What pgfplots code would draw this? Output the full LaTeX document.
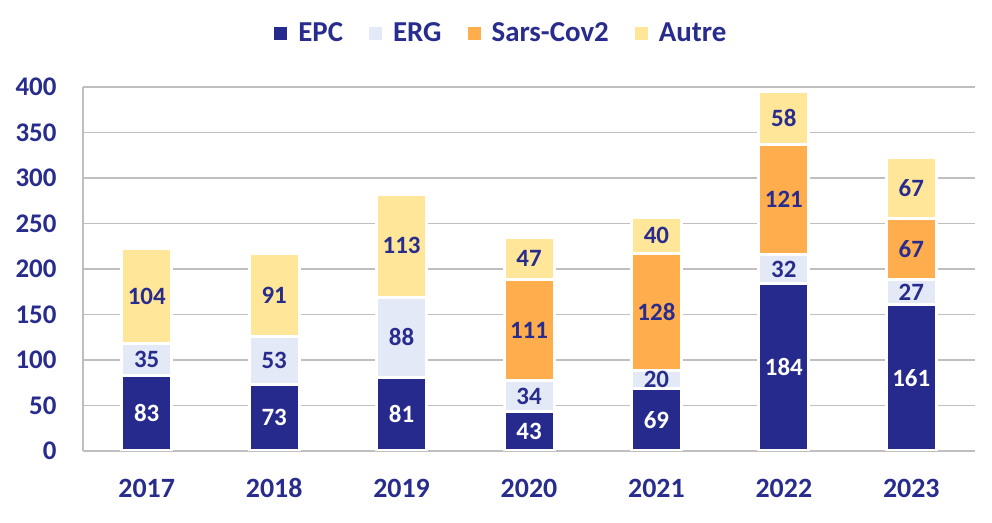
\documentclass[border=0pt]{standalone}
\usepackage{fontspec}
\setmainfont{Carlito}
\usepackage{pgfplots}
\pgfplotsset{compat=1.18}
\definecolor{epc}{RGB}{38,42,140}
\definecolor{erg}{RGB}{227,233,246}
\definecolor{sars}{RGB}{255,173,77}
\definecolor{autre}{RGB}{255,230,153}
\definecolor{txt}{RGB}{40,44,140}
\definecolor{gridc}{RGB}{191,191,191}
\begin{document}
\begin{tikzpicture}
\useasboundingbox (-83bp,-72bp) rectangle (909bp,451bp);
\pgfplotsset{
  common/.style={
    at={(0,0)}, anchor=south west,
    scale only axis, width=892bp, height=364bp,
    xmin=-0.5, xmax=6.5, ymin=0, ymax=400,
  }
}
\begin{axis}[common,
  ybar stacked, bar width=50bp,
  axis x line*=bottom, axis y line*=left,
  axis line style={gridc, line width=1.5bp, -},
  ymajorgrids, grid style={gridc, line width=1.5bp},
  major tick length=0pt,
  ytick={0,50,...,400},
  xtick={0,...,6},
  xticklabels={2017,2018,2019,2020,2021,2022,2023},
  /pgf/number format/assume math mode=true,
  yticklabel style={font=\fontsize{27}{30}\selectfont\bfseries, text=txt, xshift=-23bp},
  xticklabel style={font=\fontsize{28}{30}\selectfont\bfseries, text=txt, anchor=base, yshift=-46bp},
  every axis plot/.append style={draw=white, line width=3bp},
  legend columns=4,
  legend style={draw=none, fill=none, at={(0.469,1.148)}, anchor=center,
    font=\fontsize{29}{32}\selectfont\bfseries, text=txt,
    /tikz/every odd column/.append style={column sep=9bp},
    /tikz/every even column/.append style={column sep=24bp}},
  legend image code/.code={\fill[#1, draw=none] (0bp,-6.5bp) rectangle (13bp,6.5bp);},
]
\addplot[fill=epc] coordinates {(0,83) (1,73) (2,81) (3,43) (4,69) (5,184) (6,161)};
\addplot[fill=erg] coordinates {(0,35) (1,53) (2,88) (3,34) (4,20) (5,32) (6,27)};
\addplot[fill=sars] coordinates {(0,0) (1,0) (2,0) (3,111) (4,128) (5,121) (6,67)};
\addplot[fill=autre] coordinates {(0,104) (1,91) (2,113) (3,47) (4,40) (5,58) (6,67)};
\legend{EPC,ERG,Sars-Cov2,Autre}
\end{axis}
\begin{axis}[common, hide axis,
  nodes near coords, point meta=explicit symbolic,
  every node near coord/.append style={anchor=center, font=\fontsize{25}{28}\selectfont\bfseries},
]
\addplot[only marks, mark=none, nodes near coords style={text=white}] table[meta=l] {
x y l
0 41.5 83
1 36.5 73
2 40.5 81
3 21.5 43
4 34.5 69
5 92 184
6 80.5 161
};
\addplot[only marks, mark=none, nodes near coords style={text=txt}] table[meta=l] {
x y l
0 100.5 35
1 99.5 53
2 125 88
3 60 34
4 79 20
5 200 32
6 174.5 27
3 132.5 111
4 153 128
5 276.5 121
6 221.5 67
0 170 104
1 171.5 91
2 225.5 113
3 211.5 47
4 237 40
5 366 58
6 288.5 67
};
\end{axis}
\end{tikzpicture}
\end{document}
